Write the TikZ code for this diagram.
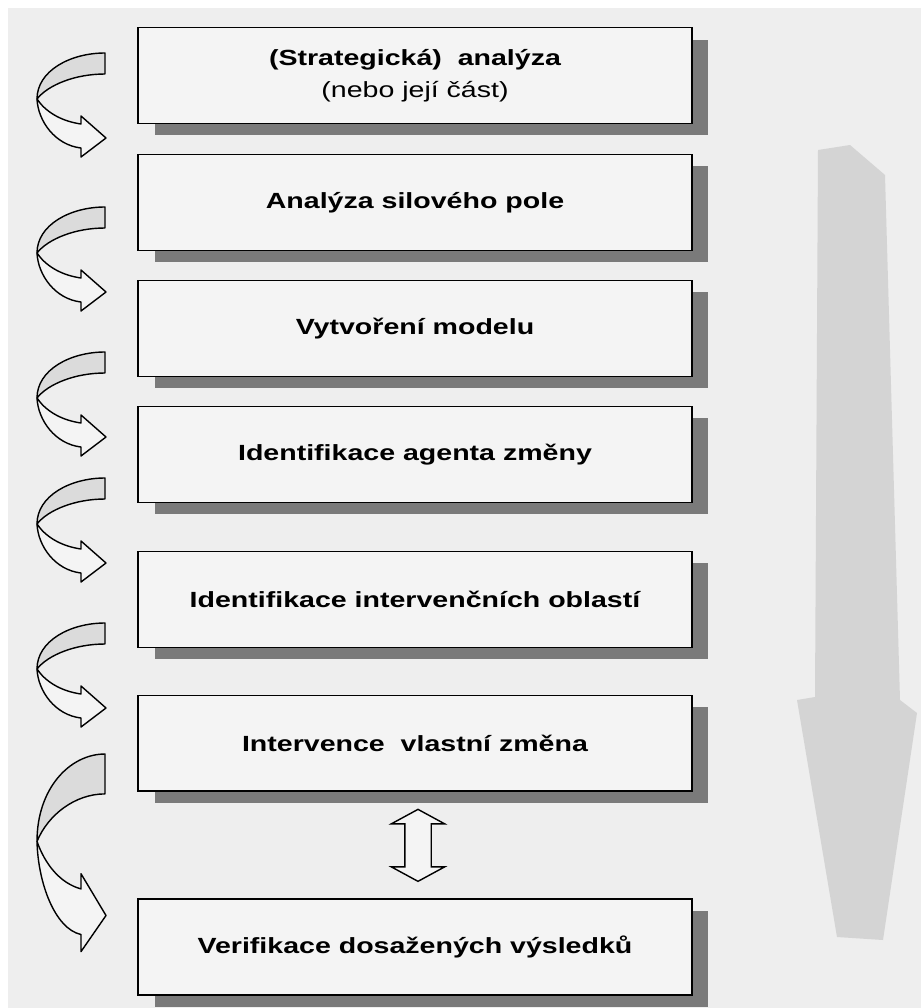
\documentclass[tikz,border=0pt]{standalone}
\usepackage{fontspec}
\usepackage{tikz}
\usetikzlibrary{positioning, calc, shapes.arrows, shadows}
\newfontfamily\boxfont{Liberation Sans}[FakeStretch=1.3]

\definecolor{paper}{gray}{0.935}
\definecolor{boxfill}{gray}{0.955}
\definecolor{shade}{gray}{0.48}
\definecolor{curlback}{gray}{0.86}
\definecolor{bigarrow}{gray}{0.83}

\begin{document}
\begin{tikzpicture}[
  x=0.02cm, y=-0.02cm,
  stage/.style={rectangle, draw=black, line width=1pt, fill=boxfill, outer sep=0pt,
    minimum width=11.08cm, minimum height=1.92cm, align=center,
    font=\boxfont\fontsize{12.5}{18}\selectfont\bfseries,
    drop shadow={shadow xshift=0.33cm, shadow yshift=-0.24cm, fill=shade, opacity=1}},
  curlline/.style={draw=black, line width=0.8pt, line join=round},
  swaparrow/.style={double arrow, draw=black, line width=0.8pt, fill=boxfill, rotate=90,
    minimum height=1.44cm, inner xsep=0pt, inner ysep=0.25cm,
    double arrow head extend=0.27cm, double arrow tip angle=123},
  curl/.pic={
    \draw[curlline, fill=curlback] (0,0) .. controls (-35,0) and (-68,18) .. (-68,46)
      .. controls (-57,32) and (-30,21) .. (0,21) -- cycle;
    \draw[curlline, fill=boxfill] (-68,46) .. controls (-67,68) and (-50,92) .. (-24,95)
      -- (-24,104) -- (1,85) -- (-24,63) -- (-24,71)
      .. controls (-45,68) and (-60,58) .. (-68,46) -- cycle;
  },
]
\useasboundingbox (0,0) rectangle (921,1008);
\fill[paper] (8,8) rectangle (921,1008);

% big arrow on the right
\fill[bigarrow] (818,150) -- (850,145) -- (885,175) -- (900,700) -- (917,713)
  -- (883,940) -- (837,937) -- (797,700) -- (815,697) -- cycle;

% Stages
\node[stage] (box1) at (415,75.5) {(Strategická)\ \ analýza\\{\mdseries (nebo její část)}};
\node[stage, below=0.62cm of box1] (box2) {Analýza silového pole};
\node[stage, below=0.6cm of box2] (box3) {Vytvoření modelu};
\node[stage, below=0.6cm of box3] (box4) {Identifikace agenta změny};
\node[stage, below=0.98cm of box4] (box5) {Identifikace intervenčních oblastí};
\node[stage, below=0.96cm of box5] (box6) {Intervence\ \ vlastní změna};
\node[stage, below=2.16cm of box6] (box7) {Verifikace dosažených výsledků};

% feedback between change and verification
\node[swaparrow, yshift=-0.06cm] (swap) at ($(box6.south)!0.5!(box7.north)$) {};

% curled arrows on the left
\pic at (105,53) {curl};
\pic at (105,207) {curl};
\pic at (105,352) {curl};
\pic at (105,478) {curl};
\pic at (105,623) {curl};
\pic[yscale=1.9] at (105,754) {curl};

\end{tikzpicture}
\end{document}
